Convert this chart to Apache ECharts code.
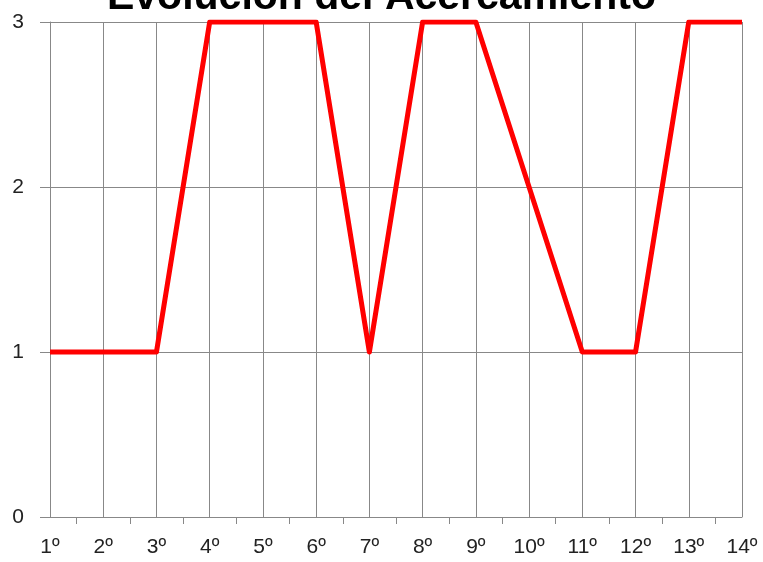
<!DOCTYPE html>
<html>
<head>
<meta charset="utf-8">
<script src="https://cdn.jsdelivr.net/npm/echarts@6/dist/echarts.min.js"></script>
<style>
  html, body { margin: 0; padding: 0; background: #fff; }
  #chart { width: 763px; height: 562px; }
</style>
</head>
<body>
<div id="chart"></div>
<script>
// categorías del eje X
var categories = ['1º', '2º', '3º', '4º', '5º', '6º', '7º', '8º', '9º', '10º', '11º', '12º', '13º', '14º'];
// nivel de acercamiento en cada sesión
var values = [1, 1, 1, 3, 3, 3, 1, 3, 3, 2, 1, 1, 3, 3];
// tramos entre sesiones (solo para las marcas intermedias del eje)
var gaps = categories.slice(1);

var chart = echarts.init(document.getElementById('chart'));

var option = {
    animation: false,
    title: {
        text: 'Evolución del Acercamiento',
        left: 'center',
        top: -28,
        textStyle: {
            fontFamily: 'Liberation Sans',
            fontWeight: 'bold',
            fontSize: 41,
            color: '#000'
        }
    },
    grid: {
        left: 50,
        right: 21,
        top: 22,
        bottom: 45
    },
    xAxis: [{
        type: 'category',
        data: categories,
        boundaryGap: false,
        axisLine: { lineStyle: { color: '#888', width: 1 } },
        axisTick: { show: false },
        axisLabel: {
            margin: 20,
            fontSize: 21,
            fontFamily: 'Liberation Sans',
            color: '#222'
        },
        splitLine: { show: true, lineStyle: { color: '#888', width: 1 } }
    }, {
        // eje auxiliar: marcas entre categorías
        type: 'category',
        position: 'bottom',
        data: gaps,
        boundaryGap: true,
        axisLine: { show: false },
        axisTick: { show: true, alignWithLabel: true, length: 7, lineStyle: { color: '#888' } },
        axisLabel: { show: false },
        splitLine: { show: false }
    }],
    yAxis: {
        type: 'value',
        min: 0,
        max: 3,
        interval: 1,
        axisLine: { show: true, lineStyle: { color: '#888' } },
        axisTick: { show: true, length: 10, lineStyle: { color: '#888' } },
        axisLabel: {
            margin: 26,
            fontSize: 21,
            fontFamily: 'Liberation Sans',
            color: '#222'
        },
        splitLine: { show: true, lineStyle: { color: '#888', width: 1 } }
    },
    series: [{
        type: 'line',
        xAxisIndex: 0,
        data: values,
        showSymbol: false,
        symbol: 'none',
        lineStyle: { color: '#ff0000', width: 5, join: 'round' },
        itemStyle: { color: '#ff0000' }
    }]
};

chart.setOption(option);
</script>
</body>
</html>
